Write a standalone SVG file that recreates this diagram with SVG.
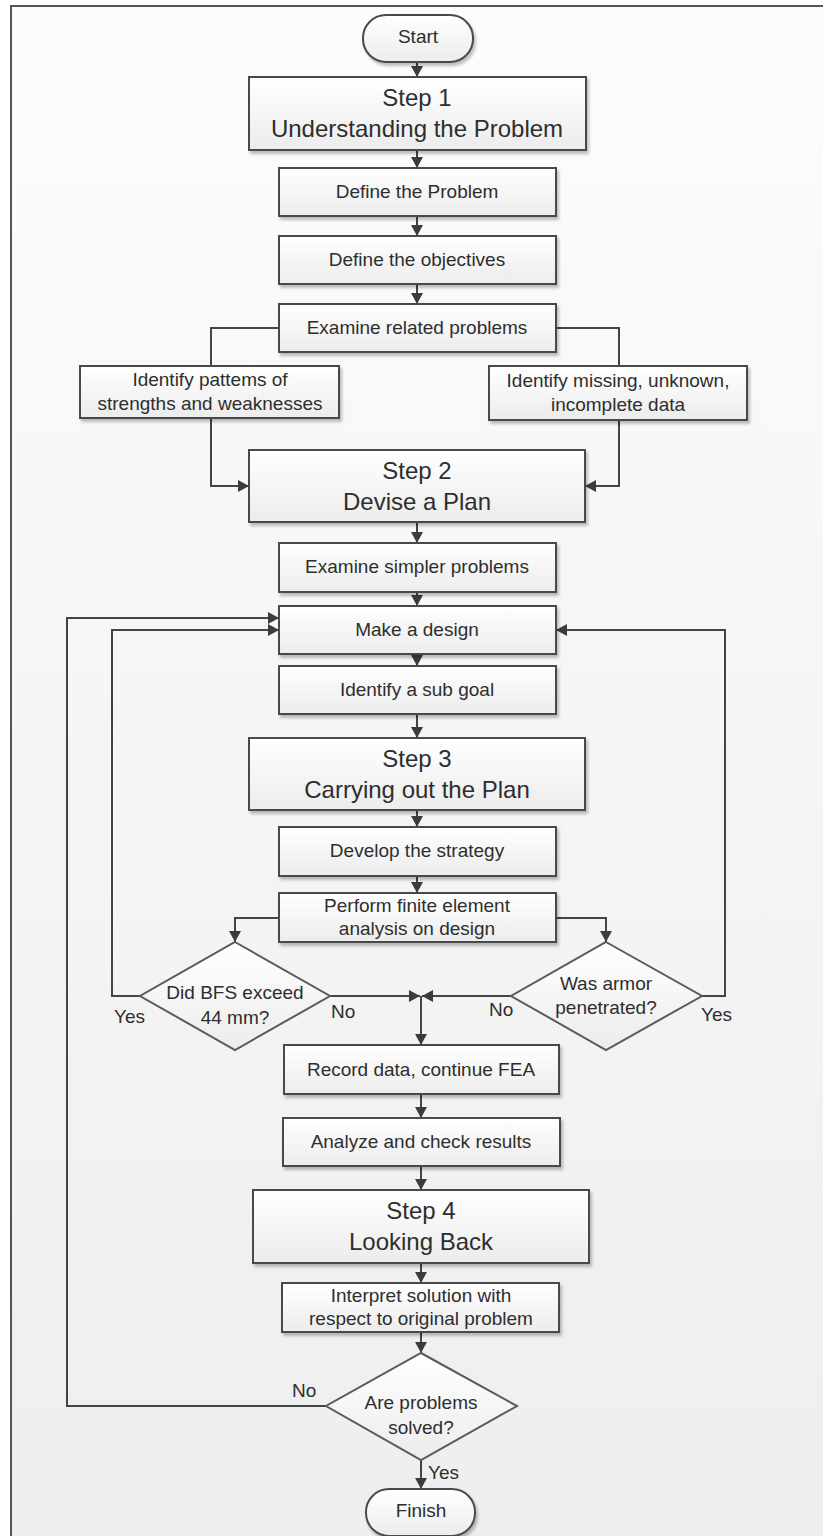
<svg xmlns="http://www.w3.org/2000/svg" width="823" height="1536" viewBox="0 0 823 1536">
<defs>
<linearGradient id="bg" x1="0" y1="0" x2="0" y2="1">
<stop offset="0" stop-color="#fcfcfc"/>
<stop offset="1" stop-color="#eeeeee"/>
</linearGradient>
<linearGradient id="boxfill" x1="0" y1="0" x2="0" y2="1">
<stop offset="0" stop-color="#ffffff"/>
<stop offset="1" stop-color="#ececec"/>
</linearGradient>
<filter id="sh" x="-10%" y="-10%" width="130%" height="140%">
<feDropShadow dx="2" dy="3" stdDeviation="1.5" flood-color="#000" flood-opacity="0.25"/>
</filter>
<marker id="ah" markerUnits="userSpaceOnUse" markerWidth="12" markerHeight="12" refX="11" refY="6" orient="auto">
<path d="M0,0 L11,6 L0,12 Z" fill="#3c3c3c"/>
</marker>
</defs>
<style>
.box{fill:url(#boxfill);stroke:#4a4a4a;stroke-width:2;filter:url(#sh)}
.dia{fill:url(#boxfill);stroke:#5a5a5a;stroke-width:2}
.t{font-family:"Liberation Sans",Arial,sans-serif;font-size:19px;fill:#2e2e2e;text-anchor:middle}
.s{font-family:"Liberation Sans",Arial,sans-serif;font-size:24px;fill:#2e2e2e;text-anchor:middle}
.lbl{font-family:"Liberation Sans",Arial,sans-serif;font-size:19px;fill:#2e2e2e}
.c{fill:none;stroke:#444;stroke-width:2}
.ca{fill:none;stroke:#444;stroke-width:2;marker-end:url(#ah)}
</style>
<rect x="0" y="0" width="823" height="1536" fill="#ffffff"/>
<rect x="11" y="6" width="812" height="1530" fill="url(#bg)"/>
<line x1="10" y1="6" x2="823" y2="6" stroke="#555" stroke-width="2"/>
<line x1="11" y1="5" x2="11" y2="1536" stroke="#555" stroke-width="2"/>

<g id="connectors">
<path class="ca" d="M417,62 V77"/>
<path class="ca" d="M417,150 V168"/>
<path class="ca" d="M417,216 V236"/>
<path class="ca" d="M417,284 V304"/>
<path class="c" d="M279,328 H211 V366"/>
<path class="c" d="M556,328 H619 V366"/>
<path class="ca" d="M211,418 V486 H249"/>
<path class="ca" d="M619,420 V486 H585"/>
<path class="ca" d="M417,522 V543"/>
<path class="ca" d="M417,592 V606"/>
<path class="ca" d="M417,654 V666"/>
<path class="ca" d="M417,714 V738"/>
<path class="ca" d="M417,810 V827"/>
<path class="ca" d="M417,876 V893"/>
<path class="ca" d="M279,918 H235 V942"/>
<path class="ca" d="M556,918 H606 V942"/>
<path class="ca" d="M140,996 H112 V630 H279"/>
<path class="ca" d="M702,996 H725 V630 H556"/>
<path class="ca" d="M330,996 H420"/>
<path class="ca" d="M511,996 H422"/>
<path class="ca" d="M421,996 V1045"/>
<path class="ca" d="M421,1094 V1118"/>
<path class="ca" d="M421,1166 V1190"/>
<path class="ca" d="M421,1263 V1283"/>
<path class="ca" d="M421,1332 V1353"/>
<path class="ca" d="M326,1406 H67 V618 H279"/>
<path class="ca" d="M421,1460 V1489"/>
<text class="lbl" x="114" y="1023">Yes</text>
<text class="lbl" x="331" y="1018">No</text>
<text class="lbl" x="489" y="1016">No</text>
<text class="lbl" x="701" y="1021">Yes</text>
<text class="lbl" x="292" y="1397">No</text>
<text class="lbl" x="428" y="1479">Yes</text>
</g>

<g id="start">
<rect class="box" x="363" y="15" width="110" height="47" rx="23" ry="23"/>
<text class="t" x="418" y="43">Start</text>
</g>
<g id="step1">
<rect class="box" x="249" y="77" width="337" height="73"/>
<text class="s" x="417" y="106">Step 1</text>
<text class="s" x="417" y="137">Understanding the Problem</text>
</g>
<g id="define-problem">
<rect class="box" x="279" y="168" width="277" height="48"/>
<text class="t" x="417" y="198">Define the Problem</text>
</g>
<g id="define-objectives">
<rect class="box" x="279" y="236" width="277" height="48"/>
<text class="t" x="417" y="266">Define the objectives</text>
</g>
<g id="examine-related">
<rect class="box" x="279" y="304" width="277" height="48"/>
<text class="t" x="417" y="334">Examine related problems</text>
</g>
<g id="identify-patterns">
<rect class="box" x="80" y="366" width="259" height="52"/>
<text class="t" x="210" y="386">Identify pattems of</text>
<text class="t" x="210" y="410">strengths and weaknesses</text>
</g>
<g id="identify-missing">
<rect class="box" x="489" y="366" width="258" height="54"/>
<text class="t" x="618" y="387">Identify missing, unknown,</text>
<text class="t" x="618" y="411">incomplete data</text>
</g>
<g id="step2">
<rect class="box" x="249" y="450" width="336" height="72"/>
<text class="s" x="417" y="479">Step 2</text>
<text class="s" x="417" y="510">Devise a Plan</text>
</g>
<g id="examine-simpler">
<rect class="box" x="279" y="543" width="277" height="49"/>
<text class="t" x="417" y="573">Examine simpler problems</text>
</g>
<g id="make-design">
<rect class="box" x="279" y="606" width="277" height="48"/>
<text class="t" x="417" y="636">Make a design</text>
</g>
<g id="sub-goal">
<rect class="box" x="279" y="666" width="277" height="48"/>
<text class="t" x="417" y="696">Identify a sub goal</text>
</g>
<g id="step3">
<rect class="box" x="249" y="738" width="336" height="72"/>
<text class="s" x="417" y="767">Step 3</text>
<text class="s" x="417" y="798">Carrying out the Plan</text>
</g>
<g id="develop-strategy">
<rect class="box" x="279" y="827" width="277" height="49"/>
<text class="t" x="417" y="857">Develop the strategy</text>
</g>
<g id="perform-fea">
<rect class="box" x="279" y="893" width="277" height="49"/>
<text class="t" x="417" y="912">Perform finite element</text>
<text class="t" x="417" y="935">analysis on design</text>
</g>
<g id="bfs-decision">
<polygon class="dia" points="235,942 330,996 235,1050 140,996"/>
<text class="t" x="235" y="999">Did BFS exceed</text>
<text class="t" x="235" y="1024">44 mm?</text>
</g>
<g id="armor-decision">
<polygon class="dia" points="606,942 702,996 606,1050 511,996"/>
<text class="t" x="606" y="990">Was armor</text>
<text class="t" x="606" y="1014">penetrated?</text>
</g>
<g id="record-data">
<rect class="box" x="284" y="1045" width="275" height="49"/>
<text class="t" x="421" y="1076">Record data, continue FEA</text>
</g>
<g id="analyze">
<rect class="box" x="283" y="1118" width="277" height="48"/>
<text class="t" x="421" y="1148">Analyze and check results</text>
</g>
<g id="step4">
<rect class="box" x="253" y="1190" width="336" height="73"/>
<text class="s" x="421" y="1219">Step 4</text>
<text class="s" x="421" y="1250">Looking Back</text>
</g>
<g id="interpret">
<rect class="box" x="282" y="1283" width="277" height="49"/>
<text class="t" x="421" y="1302">Interpret solution with</text>
<text class="t" x="421" y="1325">respect to original problem</text>
</g>
<g id="solved-decision">
<polygon class="dia" points="421,1353 517,1406 421,1460 326,1406"/>
<text class="t" x="421" y="1409">Are problems</text>
<text class="t" x="421" y="1434">solved?</text>
</g>
<g id="finish">
<rect class="box" x="366" y="1489" width="109" height="47" rx="23" ry="23"/>
<text class="t" x="421" y="1517">Finish</text>
</g>
</svg>
